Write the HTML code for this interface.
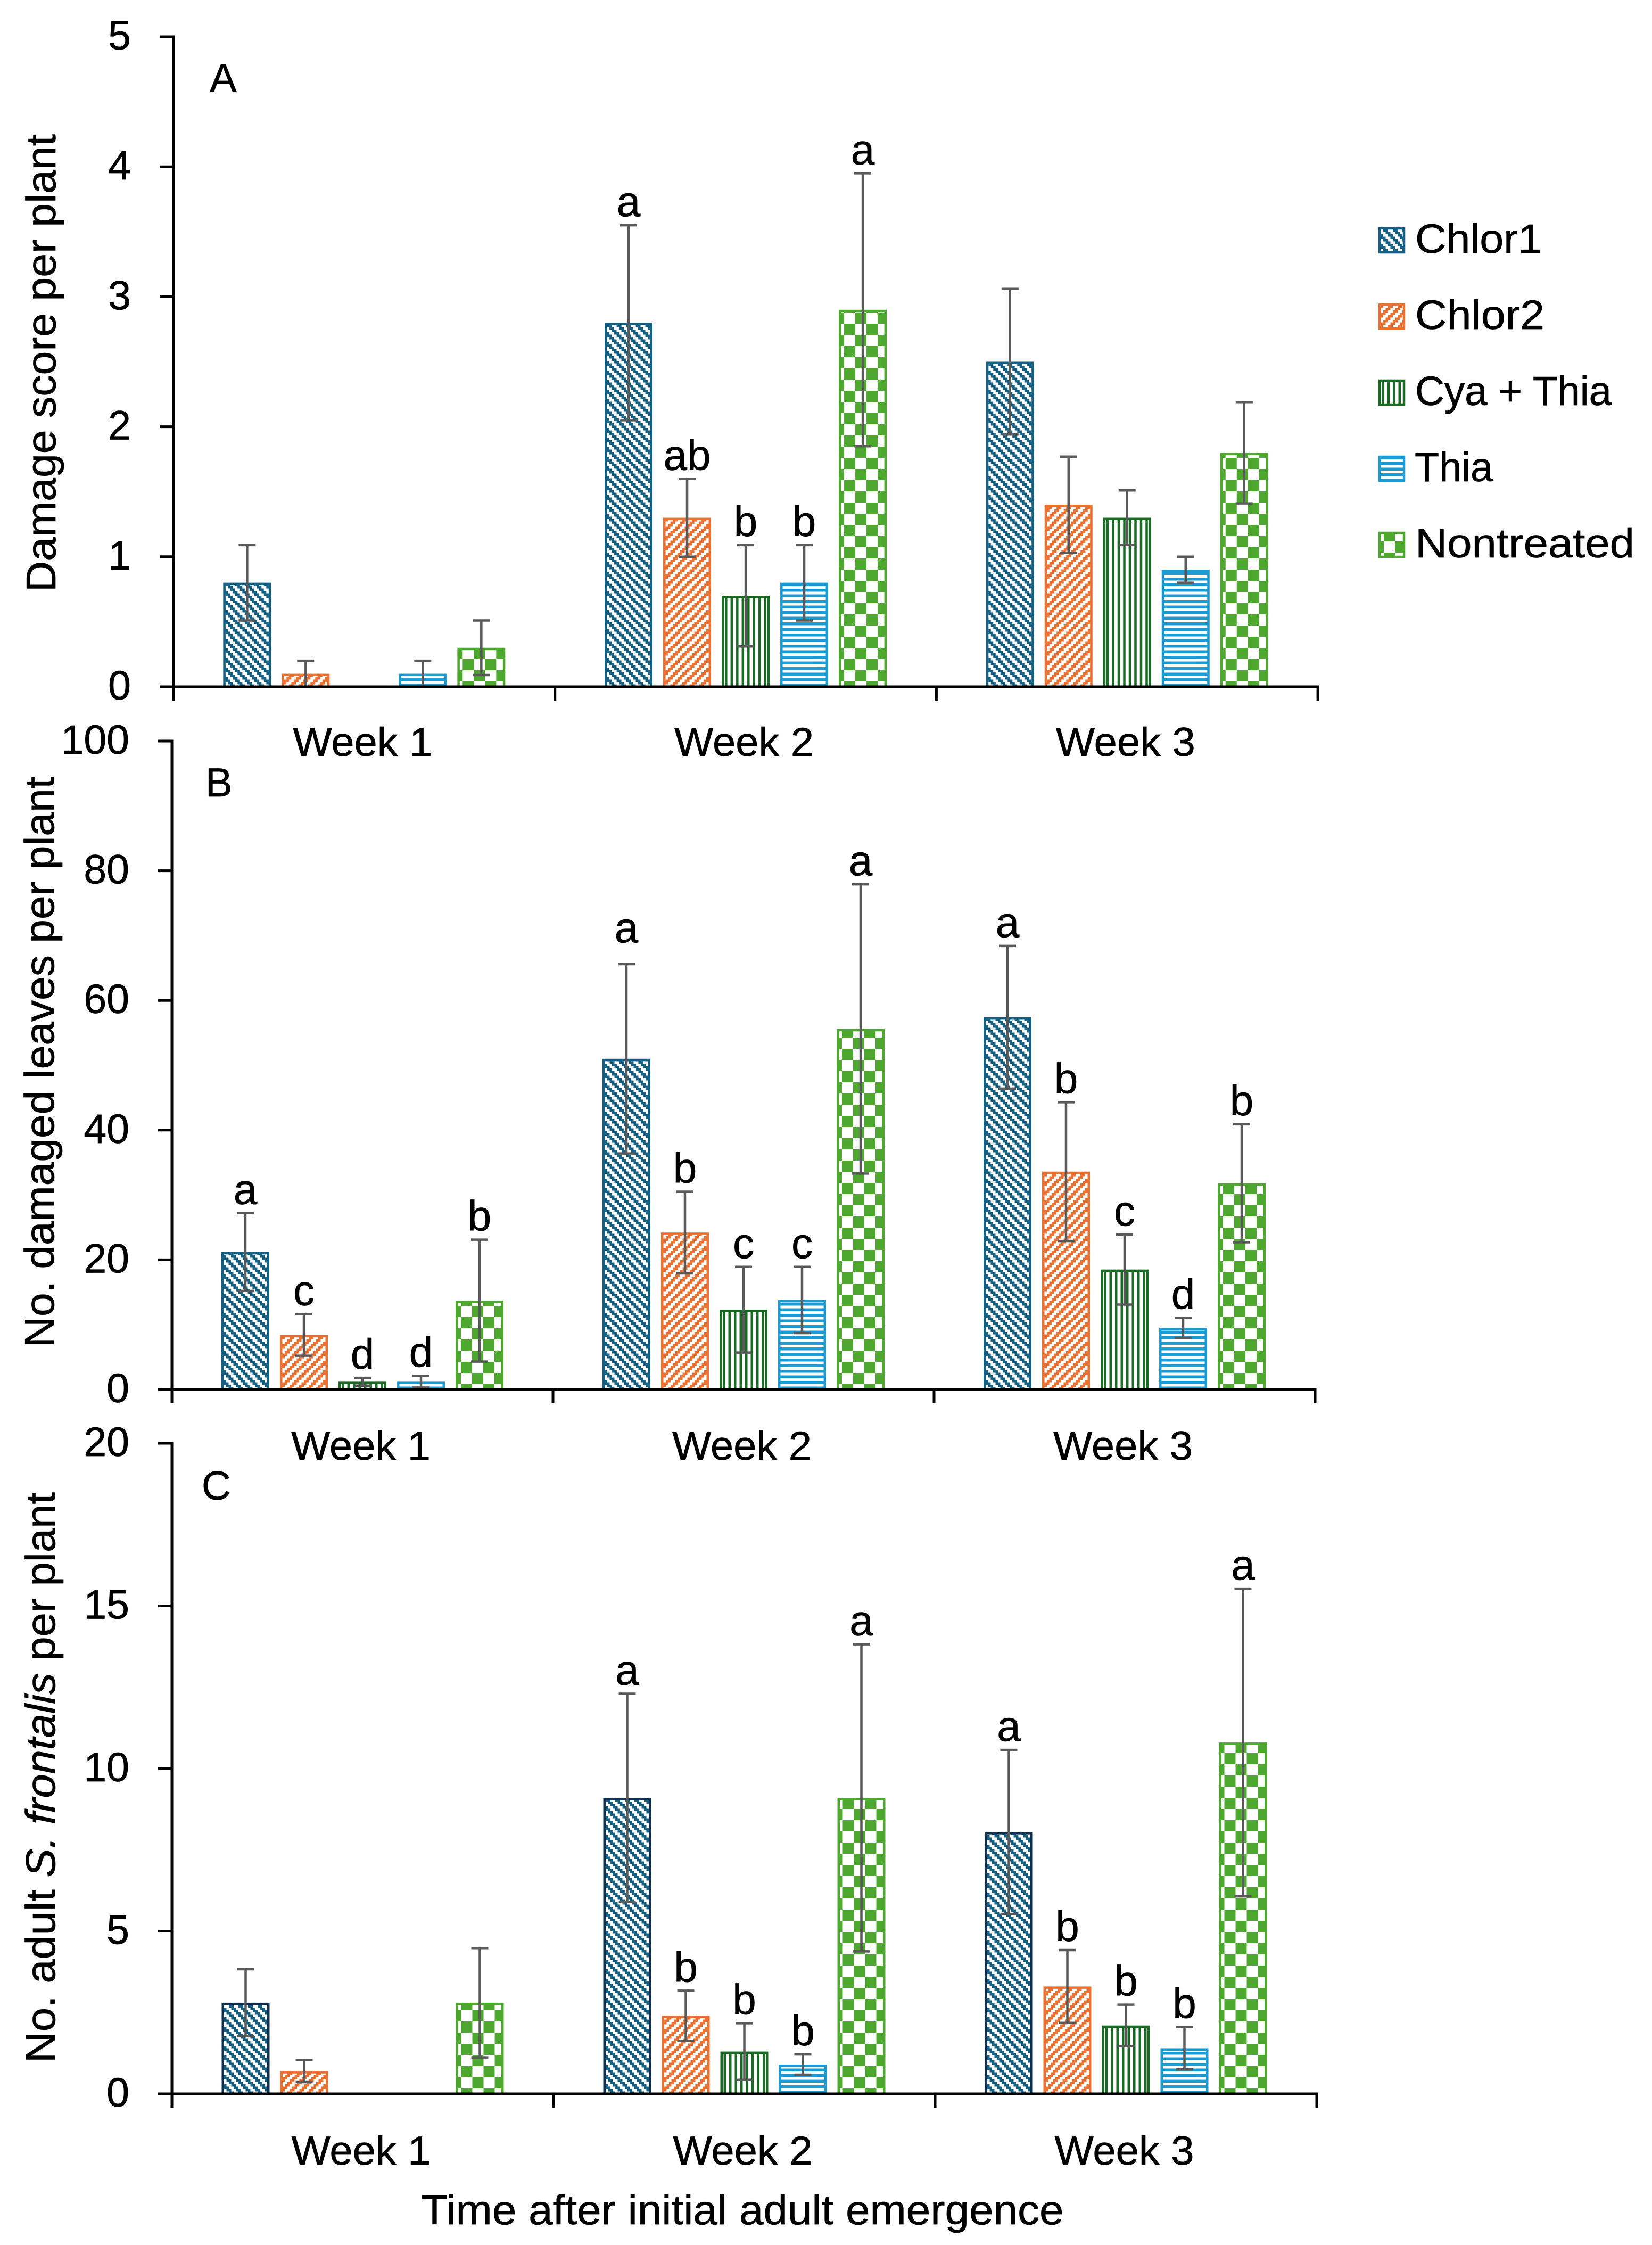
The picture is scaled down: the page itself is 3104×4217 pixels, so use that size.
<!DOCTYPE html>
<html lang="en">
<head>
<meta charset="utf-8">
<title>Damage, damaged leaves and adult S. frontalis per plant</title>
<style>
html,body{margin:0;padding:0;background:#fff;}
svg{display:block;}
text{font-family:"Liberation Sans",Arial,sans-serif;fill:#000;stroke:#000;stroke-width:0.7px;}
</style>
</head>
<body>
<svg id="chart" xmlns="http://www.w3.org/2000/svg" width="3104" height="4217" viewBox="0 0 3104 4217">
  <defs>
    <pattern id="pat-chlor1" patternUnits="userSpaceOnUse" width="18" height="18">
      <rect width="18" height="18" fill="#fff"/>
      <path d="M0 0h9v4.5h-9zM4.5 4.5h9v4.5h-9zM9 9h9v4.5h-9zM13.5 13.5h4.5v4.5h-4.5zM0 13.5h4.5v4.5h-4.5z" fill="#156082"/>
    </pattern>
    <pattern id="pat-chlor2" patternUnits="userSpaceOnUse" width="18" height="18">
      <rect width="18" height="18" fill="#fff"/>
      <path d="M9 0h9v4.5h-9zM4.5 4.5h9v4.5h-9zM0 9h9v4.5h-9zM13.5 13.5h4.5v4.5h-4.5zM0 13.5h4.5v4.5h-4.5z" fill="#E97132"/>
    </pattern>
    <pattern id="pat-cya" patternUnits="userSpaceOnUse" width="10.5" height="10">
      <rect width="10.5" height="10" fill="#fff"/>
      <rect x="6" width="5" height="10" fill="#196B24"/>
    </pattern>
    <pattern id="pat-thia" patternUnits="userSpaceOnUse" width="10" height="10.5">
      <rect width="10" height="10.5" fill="#fff"/>
      <rect y="5" width="10" height="5.7" fill="#1C9AD2"/>
    </pattern>
    <pattern id="pat-nontreated" patternUnits="userSpaceOnUse" x="10" y="-10" width="42" height="42">
      <rect width="42" height="42" fill="#fff"/>
      <rect width="21" height="21" fill="#4EA72E"/>
      <rect x="21" y="21" width="21" height="21" fill="#4EA72E"/>
    </pattern>
  </defs>

  <rect width="3104" height="4217" fill="#fff"/>
  <g id="plots"></g>

  <text transform="translate(104 682) rotate(-90)" text-anchor="middle" font-size="78" textLength="860" lengthAdjust="spacingAndGlyphs">Damage score per plant</text>
  <text transform="translate(101 1995) rotate(-90)" text-anchor="middle" font-size="78" textLength="1072" lengthAdjust="spacingAndGlyphs">No. damaged leaves per plant</text>
  <text transform="translate(103 3339) rotate(-90)" text-anchor="middle" font-size="78" textLength="1072" lengthAdjust="spacingAndGlyphs">No. adult <tspan font-style="italic">S. frontalis</tspan> per plant</text>
  <text x="1395" y="4178" text-anchor="middle" font-size="78" textLength="1207" lengthAdjust="spacingAndGlyphs">Time after initial adult emergence</text>

  <g>
    <g>
      <g transform="translate(2590 476)"><rect x="2" y="-47" width="46" height="45" fill="url(#pat-chlor1)" stroke="#156082" stroke-width="4.5"/></g>
      <text x="2659" y="475" font-size="77" textLength="238" lengthAdjust="spacingAndGlyphs">Chlor1</text>
    </g>
    <g>
      <g transform="translate(2590 619)"><rect x="2" y="-47" width="46" height="45" fill="url(#pat-chlor2)" stroke="#E97132" stroke-width="4.5"/></g>
      <text x="2659" y="618" font-size="77" textLength="243" lengthAdjust="spacingAndGlyphs">Chlor2</text>
    </g>
    <g>
      <g transform="translate(2590 762)"><rect x="2" y="-47" width="46" height="45" fill="url(#pat-cya)" stroke="#196B24" stroke-width="4.5"/></g>
      <text x="2659" y="761" font-size="77" textLength="369" lengthAdjust="spacingAndGlyphs">Cya + Thia</text>
    </g>
    <g>
      <g transform="translate(2590 905)"><rect x="2" y="-47" width="46" height="45" fill="url(#pat-thia)" stroke="#1C9AD2" stroke-width="4.5"/></g>
      <text x="2658" y="904" font-size="77" textLength="147" lengthAdjust="spacingAndGlyphs">Thia</text>
    </g>
    <g>
      <g transform="translate(2590 1048)"><rect x="2" y="-47" width="46" height="45" fill="url(#pat-nontreated)" stroke="#4EA72E" stroke-width="4.5"/></g>
      <text x="2659" y="1047" font-size="77" textLength="412" lengthAdjust="spacingAndGlyphs">Nontreated</text>
    </g>
  </g>
</svg>

<script>
/* categories */
const weeks = ['Week 1', 'Week 2', 'Week 3'];
const treatments = ['chlor1', 'chlor2', 'cya-thia', 'thia', 'nontreated'];

/* Panel A: damage score. Rows are weeks, columns follow treatments. */
const ticksA = [0, 1, 2, 3, 4, 5];
const meansA = [
  [0.8, 0.1, 0, 0.1, 0.3],
  [2.8, 1.3, 0.7, 0.8, 2.9],
  [2.5, 1.4, 1.3, 0.9, 1.8]
];
const errorsA = [
  [0.29, 0.1, 0, 0.1, 0.21],
  [0.75, 0.3, 0.39, 0.29, 1.05],
  [0.56, 0.37, 0.21, 0.1, 0.39]
];
const lettersA = [
  ['', '', '', '', ''],
  ['a', 'ab', 'b', 'b', 'a'],
  ['', '', '', '', '']
];

/* Panel B: damaged leaves */
const ticksB = [0, 20, 40, 60, 80, 100];
const meansB = [
  [21.2, 8.4, 1.2, 1.2, 13.7],
  [51, 24.2, 12.3, 13.8, 55.6],
  [57.4, 33.6, 18.5, 9.5, 31.8]
];
const errorsB = [
  [6, 3.2, 0.6, 0.9, 9.4],
  [14.6, 6.3, 6.6, 5.1, 22.3],
  [11, 10.7, 5.4, 1.55, 9.1]
];
const lettersB = [
  ['a', 'c', 'd', 'd', 'b'],
  ['a', 'b', 'c', 'c', 'a'],
  ['a', 'b', 'c', 'd', 'b']
];

/* Panel C: adult S. frontalis */
const ticksC = [0, 5, 10, 15, 20];
const meansC = [
  [2.8, 0.7, 0, 0, 2.8],
  [9.1, 2.4, 1.3, 0.9, 9.1],
  [8.05, 3.3, 2.1, 1.4, 10.8]
];
const errorsC = [
  [1.03, 0.34, 0, 0, 1.68],
  [3.2, 0.77, 0.87, 0.31, 4.72],
  [2.52, 1.12, 0.64, 0.65, 4.73]
];
const lettersC = [
  ['', '', '', '', ''],
  ['a', 'b', 'b', 'b', 'a'],
  ['a', 'b', 'b', 'b', 'a']
];

const SVGNS = 'http://www.w3.org/2000/svg';
const FILLS = ['url(#pat-chlor1)', 'url(#pat-chlor2)', 'url(#pat-cya)', 'url(#pat-thia)', 'url(#pat-nontreated)'];
const STROKES = ['#156082', '#E97132', '#196B24', '#1C9AD2', '#4EA72E'];

function make(tag, attrs, parent) {
  const el = document.createElementNS(SVGNS, tag);
  for (const k in attrs) el.setAttribute(k, attrs[k]);
  parent.appendChild(el);
  return el;
}

function drawPanel(p) {
  const root = document.getElementById('plots');
  const group = make('g', {}, root);
  
  

  const yMax = p.ticks[p.ticks.length - 1];
  const yAt = v => p.yZero - (v / yMax) * (p.yZero - p.yTop);
  const groupCentre = w => p.x0 + p.step * (w + 0.5);
  const barCentre = (w, t) => groupCentre(w) + (t - 2) * 110;

  /* bars */
  p.means.forEach((row, w) => row.forEach((v, t) => {
    if (v <= 0) return;
    const g = make('g', {transform: 'translate(' + (barCentre(w, t) - 45) + ' ' + p.yZero + ')'}, group);
    const h = p.yZero - yAt(v);
    const bar = make('rect', {x: 2.25, y: -h + 2.25, width: 85.5, height: Math.max(h - 2.25, 0.1),
      fill: FILLS[t], stroke: (p.id === 'c' && t === 0) ? '#10304F' : STROKES[t], 'stroke-width': 4.5}, g);
    
    
  }));

  /* error bars and significance letters */
  p.errors.forEach((row, w) => row.forEach((e, t) => {
    const cx = barCentre(w, t);
    const m = p.means[w][t];
    const hiY = yAt(m + e);
    if (e > 0) {
      const loY = yAt(Math.max(m - e, 0));
      const eb = make('path', {d: 'M' + cx + ' ' + hiY + 'V' + loY + 'M' + (cx - 16) + ' ' + hiY + 'H' + (cx + 16) +
        'M' + (cx - 16) + ' ' + loY + 'H' + (cx + 16), fill: 'none', stroke: '#595959', 'stroke-width': 4.5}, group);
      
      
    }
    const letter = p.letters[w][t];
    if (letter) {
      const extra = (p.id === 'b' && w === 1 && t === 0) ? 24 : 0;
      const tx = make('text', {x: cx, y: hiY - 17 - extra, 'text-anchor': 'middle', 'font-size': 80}, group);
      tx.textContent = letter;
      
      
    }
  }));

  /* axes */
  const xEnd = p.x0 + p.step * weeks.length;
  const yAxis = make('line', {x1: p.x0, x2: p.x0, y1: p.yTop - 2.5, y2: p.yZero + 26, stroke: '#000', 'stroke-width': 5}, group);
  
  
  const xAxis = make('line', {x1: p.x0 - 26, x2: xEnd + 2.5, y1: p.yZero, y2: p.yZero, stroke: '#000', 'stroke-width': 5}, group);
  
  

  p.ticks.forEach(v => {
    const y = yAt(v);
    const tick = make('line', {x1: p.x0 - 26, x2: p.x0, y1: y, y2: y, stroke: '#000', 'stroke-width': 5}, group);
    
    
    const lab = make('text', {x: p.x0 - 80, y: y + 24, 'text-anchor': 'end', 'font-size': 77}, group);
    lab.textContent = String(v);
    
    
  });

  weeks.forEach((name, w) => {
    const xt = p.x0 + p.step * (w + 1);
    const tick = make('line', {x1: xt, x2: xt, y1: p.yZero, y2: p.yZero + 26, stroke: '#000', 'stroke-width': 5}, group);
    
    
    const lab = make('text', {x: groupCentre(w) - 3, y: p.weekY, 'text-anchor': 'middle', 'font-size': 76,
      textLength: 262, lengthAdjust: 'spacingAndGlyphs'}, group);
    lab.textContent = name;
    
    
  });

  const tag = make('text', {x: p.tagX, y: p.tagY, 'font-size': 76}, group);
  tag.textContent = p.id.toUpperCase();
  
  
}

drawPanel({id: 'a', x0: 326, step: 716.7, yTop: 69, yZero: 1290, weekY: 1420, tagX: 394, tagY: 173,
  ticks: ticksA, means: meansA, errors: errorsA, letters: lettersA});
drawPanel({id: 'b', x0: 323, step: 716, yTop: 1392, yZero: 2610, weekY: 2742, tagX: 386, tagY: 1496,
  ticks: ticksB, means: meansB, errors: errorsB, letters: lettersB});
drawPanel({id: 'c', x0: 323, step: 717, yTop: 2711, yZero: 3933, weekY: 4066, tagX: 379, tagY: 2817,
  ticks: ticksC, means: meansC, errors: errorsC, letters: lettersC});
</script>
</body>
</html>
